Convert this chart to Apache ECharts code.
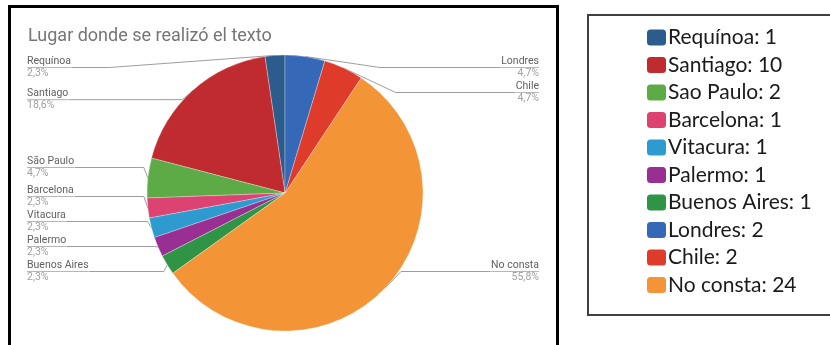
<!DOCTYPE html>
<html>
<head>
<meta charset="utf-8">
<script src="https://cdn.jsdelivr.net/npm/echarts@6/dist/echarts.min.js"></script>
<style>
  html, body { margin: 0; padding: 0; background: #fff; }
  #chart { width: 830px; height: 345px; }
</style>
</head>
<body>
<div id="chart"></div>
<script>
  // slices, counter-clockwise from the top
  var sliceNames = ['Requínoa', 'Santiago', 'São Paulo', 'Barcelona', 'Vitacura', 'Palermo', 'Buenos Aires', 'No consta', 'Chile', 'Londres'];
  var sliceValues = [1, 8, 2, 1, 1, 1, 1, 24, 2, 2];
  var sliceColors = ['#2b5c8c', '#bf2b2f', '#5cab46', '#dc4272', '#2e9bd0', '#9a2f93', '#2f9445', '#f39537', '#de3b2b', '#3569b8'];

  // legend box on the right (its own texts and counts)
  var legendOrder = ['Requínoa', 'Santiago', 'São Paulo', 'Barcelona', 'Vitacura', 'Palermo', 'Buenos Aires', 'Londres', 'Chile', 'No consta'];
  var legendLabels = ['Requínoa', 'Santiago', 'Sao Paulo', 'Barcelona', 'Vitacura', 'Palermo', 'Buenos Aires', 'Londres', 'Chile', 'No consta'];
  var legendCounts = [1, 10, 2, 1, 1, 1, 1, 2, 2, 24];

  var myChart = echarts.init(document.getElementById('chart'));

  var data = [];
  for (var i = 0; i < sliceNames.length; i++) {
    data.push({ name: sliceNames[i], value: sliceValues[i], itemStyle: { color: sliceColors[i] } });
  }

  var option = {
    backgroundColor: '#fff',
    animation: false,
    title: {
      text: 'Lugar donde se realizó el texto',
      left: 28,
      top: 27,
      padding: 0,
      textStyle: { fontFamily: 'Roboto', fontSize: 18, fontWeight: 'normal', color: '#757575' }
    },
    legend: {
      orient: 'vertical',
      left: 645,
      top: 27,
      padding: 0,
      itemWidth: 21,
      itemHeight: 18,
      itemGap: 6.5,
      icon: 'roundRect',
      selectedMode: false,
      data: legendOrder,
      formatter: function (name) {
        var idx = legendOrder.indexOf(name);
        return legendLabels[idx] + ': ' + legendCounts[idx];
      },
      textStyle: { fontFamily: 'Lato', fontSize: 21, color: '#1a1a1a', padding: [0, 0, 0, -4] }
    },
    graphic: [
      {
        type: 'rect',
        shape: { x: 9.5, y: 6.5, width: 548, height: 360 },
        style: { fill: 'none', stroke: '#000', lineWidth: 3 }
      },
      {
        type: 'rect',
        shape: { x: 588, y: 15, width: 260, height: 300 },
        style: { fill: 'none', stroke: '#404040', lineWidth: 2 }
      }
    ],
    series: [{
      type: 'pie',
      left: 8,
      top: 55,
      right: 272,
      bottom: 61,
      center: [277, 138],
      radius: 138,
      startAngle: 90,
      clockwise: false,
      percentPrecision: 1,
      avoidLabelOverlap: true,
      itemStyle: { borderColor: '#fff', borderWidth: 0.3 },
      label: {
        position: 'outside',
        alignTo: 'edge',
        edgeDistance: 19,
        distanceToLabelLine: 0,
        formatter: function (p) {
          return '{n|' + p.name + '}\n{hr|}\n{p|' + String(p.percent).replace('.', ',') + '%}';
        },
        rich: {
          n: { fontFamily: 'Roboto', fontSize: 10.5, lineHeight: 12, color: '#616161' },
          hr: { borderColor: '#9e9e9e', width: '100%', borderWidth: 0.5, height: 0 },
          p: { fontFamily: 'Roboto', fontSize: 10.5, lineHeight: 12, color: '#a0a0a0' }
        }
      },
      labelLine: {
        show: true,
        length: 4,
        length2: 10,
        lineStyle: { color: '#9e9e9e', width: 1 }
      },
      emphasis: { disabled: true },
      data: data
    }]
  };

  myChart.setOption(option);
  window.addEventListener('resize', function () {
    myChart.resize();
  });
</script>
</body>
</html>
